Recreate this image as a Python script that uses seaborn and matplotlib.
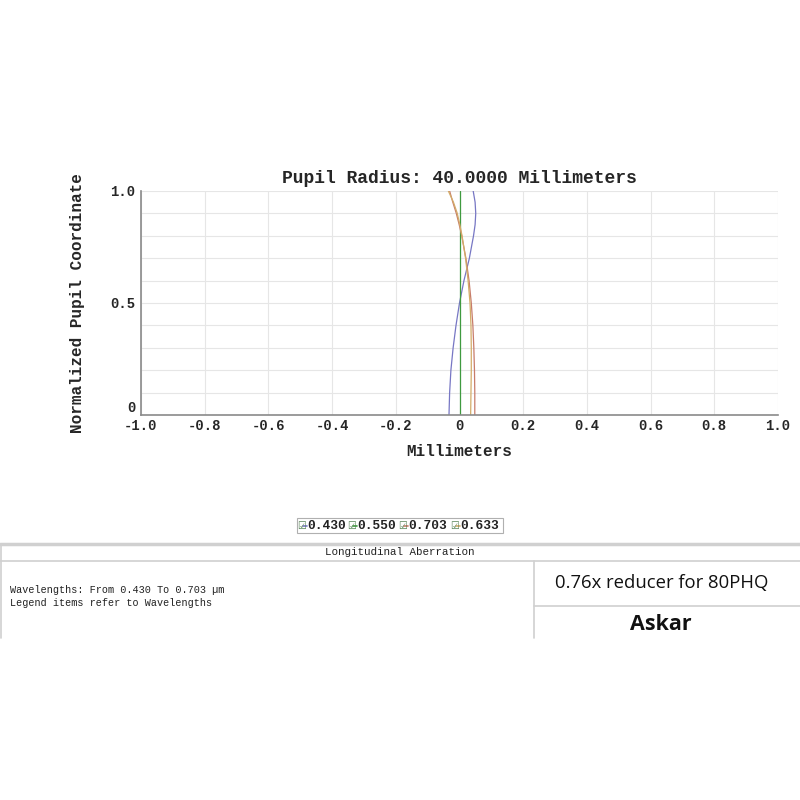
import matplotlib
matplotlib.use("Agg")
import matplotlib.pyplot as plt
import numpy as np
import pandas as pd
import seaborn as sns
from matplotlib.lines import Line2D
from matplotlib.patches import Rectangle

# Normalized pupil coordinate (shared by all wavelengths)
PUPIL = [0.0, 0.1, 0.2, 0.3, 0.4, 0.5, 0.6, 0.7, 0.8, 0.85, 0.9, 0.95, 1.0]

# Longitudinal focus shift (mm) per wavelength
FOCUS_430 = [-0.033, -0.031, -0.027, -0.020, -0.011, 0.000, 0.014, 0.031, 0.044, 0.049, 0.051, 0.049, 0.043]
FOCUS_550 = [0.0, 0.0, 0.0, 0.0, 0.0, 0.0, 0.0, 0.0, 0.0, 0.0, 0.0, 0.0, 0.0]
FOCUS_703 = [0.048, 0.048, 0.047, 0.045, 0.042, 0.037, 0.030, 0.020, 0.007, -0.001, -0.010, -0.021, -0.031]
FOCUS_633 = [0.035, 0.036, 0.037, 0.037, 0.036, 0.033, 0.027, 0.019, 0.008, 0.001, -0.007, -0.019, -0.035]

WAVELENGTHS = ["0.430", "0.550", "0.703", "0.633"]
COLORS = {"0.430": "#7777c4", "0.550": "#3f9a3f", "0.703": "#c77c6a", "0.633": "#d3ac68"}

X_TICKS = [-1.0, -0.8, -0.6, -0.4, -0.2, 0.0, 0.2, 0.4, 0.6, 0.8, 1.0]
X_TICK_LABELS = ["-1.0", "-0.8", "-0.6", "-0.4", "-0.2", "0", "0.2", "0.4", "0.6", "0.8", "1.0"]
Y_TICKS = [0.0, 0.5, 1.0]
Y_TICK_LABELS = ["0", "0.5", "1.0"]

MONO = ["Liberation Mono", "DejaVu Sans Mono"]
SANS = ["Open Sans", "DejaVu Sans"]


def fx(px):
    return px / 800


def fy(py):
    return 1 - py / 800


def build_frame():
    series = {"0.430": FOCUS_430, "0.550": FOCUS_550, "0.703": FOCUS_703, "0.633": FOCUS_633}
    rows = []
    for wl in WAVELENGTHS:
        for p, f in zip(PUPIL, series[wl]):
            rows.append({"wavelength": wl, "pupil": p, "focus": f})
    return pd.DataFrame(rows)


def draw_plot(fig, df):
    ax = fig.add_axes([fx(141), fy(415), fx(778) - fx(141), fy(191) - fy(415)])
    sns.lineplot(
        data=df, x="focus", y="pupil", hue="wavelength", palette=COLORS,
        orient="y", estimator=None, sort=False, legend=False, linewidth=0.9, ax=ax,
    )
    ax.set_xlim(-1, 1)
    ax.set_ylim(0, 1)
    ax.set_xticks(X_TICKS)
    ax.set_xticklabels(X_TICK_LABELS, family=MONO, fontsize=10, fontweight="bold")
    ax.set_yticks(np.arange(0, 1.01, 0.1), minor=True)
    ax.set_yticks(Y_TICKS)
    ax.set_yticklabels(Y_TICK_LABELS, family=MONO, fontsize=10, fontweight="bold")
    # lift the "0" on the y axis so it clears "-1.0" below it
    ax.get_yticklabels()[0].set_verticalalignment("bottom")
    ax.grid(True, which="major", color="#e6e6e6", linewidth=0.8)
    ax.grid(True, which="minor", axis="y", color="#e6e6e6", linewidth=0.8)
    ax.tick_params(which="both", length=0)
    ax.tick_params(axis="x", pad=3)
    ax.tick_params(axis="y", pad=4)
    for side in ["top", "right"]:
        ax.spines[side].set_visible(False)
    for side in ["left", "bottom"]:
        ax.spines[side].set_color("#8a8a8a")
        ax.spines[side].set_linewidth(1.2)
    ax.set_xlabel("Millimeters", family=MONO, fontsize=11.5, fontweight="bold", labelpad=8)
    ax.set_ylabel("Normalized Pupil Coordinate", family=MONO, fontsize=11.5,
                  fontweight="bold", labelpad=18)
    ax.set_title("Pupil Radius: 40.0000 Millimeters", family=MONO, fontsize=13,
                 fontweight="bold", pad=6)
    return ax


def draw_legend(fig):
    fig.patches.append(Rectangle((fx(297), fy(533)), fx(503) - fx(297), fy(518) - fy(533),
                                 transform=fig.transFigure, fill=False,
                                 edgecolor="#b0b0b0", linewidth=0.8))
    yc = fy(526)
    starts = [298, 348, 399, 451]
    for wl, x0 in zip(WAVELENGTHS, starts):
        fig.text(fx(x0 - 1), yc, "\u2611", family=["DejaVu Sans"], fontsize=7,
                 color="#4f7f4f", va="center", ha="left")
        fig.add_artist(Line2D([fx(x0 + 5), fx(x0 + 9)], [yc, yc], transform=fig.transFigure,
                              color=COLORS[wl], linewidth=1.2))
        fig.text(fx(x0 + 9), yc, wl, family=MONO, fontsize=9.3, fontweight="bold",
                 color="#222222", va="center", ha="left")


def draw_footer(fig):
    gray = "#d0d0d0"
    fig.add_artist(Line2D([0, 1], [fy(544), fy(544)], transform=fig.transFigure,
                          color=gray, linewidth=2.5))
    fig.add_artist(Line2D([0, 1], [fy(561), fy(561)], transform=fig.transFigure,
                          color=gray, linewidth=1.2))
    fig.add_artist(Line2D([fx(1), fx(1)], [fy(545), fy(638)], transform=fig.transFigure,
                          color=gray, linewidth=1.2))
    fig.add_artist(Line2D([fx(534), fx(534)], [fy(561), fy(638)], transform=fig.transFigure,
                          color=gray, linewidth=1.2))
    fig.add_artist(Line2D([fx(534), 1], [fy(606), fy(606)], transform=fig.transFigure,
                          color=gray, linewidth=1.2))

    fig.text(fx(400), fy(552), "Longitudinal Aberration", family=MONO, fontsize=7.8,
             color="#222222", ha="center", va="center")
    fig.text(fx(10), fy(590), "Wavelengths: From 0.430 To 0.703 \u00b5m", family=MONO,
             fontsize=7.3, color="#222222", ha="left", va="center")
    fig.text(fx(10), fy(603), "Legend items refer to Wavelengths", family=MONO,
             fontsize=7.3, color="#222222", ha="left", va="center")
    fig.text(fx(662), fy(583), "0.76x reducer for 80PHQ", family=SANS, fontsize=13.3,
             color="#111111", ha="center", va="center")
    fig.text(fx(661), fy(624), "Askar", family=SANS, fontsize=15.5, fontweight="bold",
             color="#111111", ha="center", va="center")


def main():
    sns.set_theme(style="white")
    plt.rcParams["font.family"] = MONO
    fig = plt.figure(figsize=(8, 8), dpi=100)
    fig.patch.set_facecolor("white")
    df = build_frame()
    draw_plot(fig, df)
    draw_legend(fig)
    draw_footer(fig)
    fig.savefig("out.png", dpi=100, facecolor="white")
    plt.close(fig)


if __name__ == "__main__":
    main()
